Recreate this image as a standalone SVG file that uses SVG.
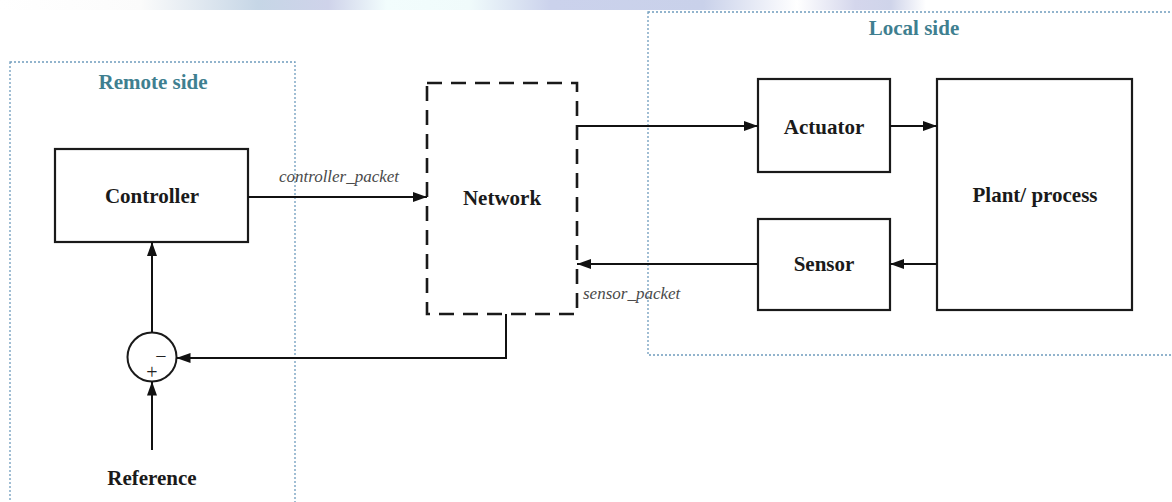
<svg xmlns="http://www.w3.org/2000/svg" width="1172" height="502" viewBox="0 0 1172 502">
  <defs>
    <marker id="arrow" markerWidth="14" markerHeight="10" refX="14" refY="5" orient="auto" markerUnits="userSpaceOnUse">
      <path d="M0,0 L14,5 L0,10 z" fill="#111"/>
    </marker>
    <linearGradient id="band" x1="0" y1="0" x2="1" y2="0">
      <stop offset="0" stop-color="#ffffff"/>
      <stop offset="0.12" stop-color="#fbfbfb"/>
      <stop offset="0.22" stop-color="#c6d6e6"/>
      <stop offset="0.28" stop-color="#cfd3ea"/>
      <stop offset="0.33" stop-color="#f2fdfd"/>
      <stop offset="0.40" stop-color="#f0fbfb"/>
      <stop offset="0.47" stop-color="#cbd2ec"/>
      <stop offset="0.60" stop-color="#c9d1ea"/>
      <stop offset="0.68" stop-color="#ffffff"/>
      <stop offset="0.73" stop-color="#d4d6ec"/>
      <stop offset="0.76" stop-color="#cfd4ea"/>
      <stop offset="0.79" stop-color="#ffffff"/>
      <stop offset="1" stop-color="#ffffff"/>
    </linearGradient>
    <style>
      text { font-family: "Liberation Serif", "Times New Roman", "DejaVu Serif", serif; }
      .region { fill: none; stroke: #6f9cbd; stroke-width: 1.3; stroke-dasharray: 2 2; }
      .region-title { font-weight: bold; font-size: 21px; fill: #3f7f90; text-anchor: middle; }
      .block { fill: #ffffff; stroke: #1a1a1a; stroke-width: 2.2; }
      .net { fill: none; stroke: #1a1a1a; stroke-width: 2.6; stroke-dasharray: 15 9; }
      .label { font-weight: bold; font-size: 21px; fill: #1a1a1a; text-anchor: middle; }
      .signal { font-style: italic; font-size: 17px; fill: #4a4a4a; }
      .wire { fill: none; stroke: #111; stroke-width: 2; }
      .sign { font-size: 20px; fill: #222; text-anchor: middle; }
    </style>
  </defs>

  <rect width="1172" height="502" fill="#ffffff"/>
  <rect x="0" y="0" width="1172" height="10" fill="url(#band)"/>

  <!-- Regions -->
  <g id="remote-side">
    <rect class="region" x="10" y="62" width="285" height="450"/>
    <text class="region-title" x="153" y="89">Remote side</text>
  </g>
  <g id="local-side">
    <rect class="region" x="648" y="12" width="540" height="343"/>
    <text class="region-title" x="914" y="35">Local side</text>
  </g>

  <!-- Blocks -->
  <g id="controller">
    <rect class="block" x="55" y="149" width="193" height="93"/>
    <text class="label" x="152" y="203">Controller</text>
  </g>
  <g id="network">
    <rect class="net" x="427" y="83" width="150" height="231"/>
    <text class="label" x="502" y="205">Network</text>
  </g>
  <g id="actuator">
    <rect class="block" x="758" y="79" width="132" height="93"/>
    <text class="label" x="824" y="134">Actuator</text>
  </g>
  <g id="sensor">
    <rect class="block" x="758" y="219" width="132" height="91"/>
    <text class="label" x="824" y="271">Sensor</text>
  </g>
  <g id="plant">
    <rect class="block" x="937" y="79" width="195" height="231"/>
    <text class="label" x="1035" y="202">Plant/ process</text>
  </g>
  <g id="summing-junction">
    <circle cx="152" cy="357" r="24.5" fill="#ffffff" stroke="#1a1a1a" stroke-width="2"/>
    <text class="sign" x="161" y="363">−</text>
    <text class="sign" x="152" y="379">+</text>
  </g>
  <g id="reference">
    <text class="label" x="152" y="485">Reference</text>
  </g>

  <!-- Connectors -->
  <g id="connectors">
    <line class="wire" x1="248" y1="197" x2="427" y2="197" marker-end="url(#arrow)"/>
    <line class="wire" x1="577" y1="126" x2="758" y2="126" marker-end="url(#arrow)"/>
    <line class="wire" x1="890" y1="126" x2="937" y2="126" marker-end="url(#arrow)"/>
    <line class="wire" x1="937" y1="264" x2="890" y2="264" marker-end="url(#arrow)"/>
    <line class="wire" x1="758" y1="264" x2="577" y2="264" marker-end="url(#arrow)"/>
    <polyline class="wire" points="506,314 506,358 176.5,358" marker-end="url(#arrow)"/>
    <line class="wire" x1="152" y1="332.5" x2="152" y2="242" marker-end="url(#arrow)"/>
    <line class="wire" x1="152" y1="450" x2="152" y2="381.5" marker-end="url(#arrow)"/>
    <text class="signal" x="339" y="182" text-anchor="middle">controller_packet</text>
    <text class="signal" x="583" y="299">sensor_packet</text>
  </g>
</svg>
